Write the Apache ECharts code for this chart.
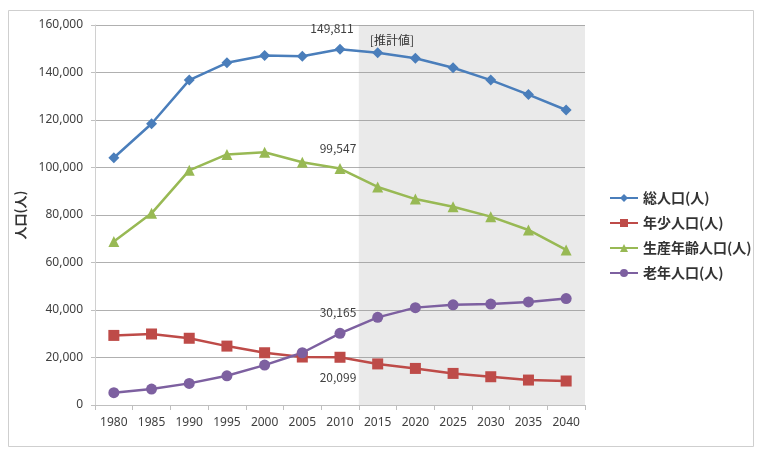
<!DOCTYPE html>
<html>
<head>
<meta charset="utf-8">
<script src="https://cdn.jsdelivr.net/npm/echarts@6/dist/echarts.min.js"></script>
<style>html,body{margin:0;padding:0;background:#fff;}#c{width:759px;height:449px;}</style>
</head>
<body>
<div id="c"></div>
<script>
var years = ['1980','1985','1990','1995','2000','2005','2010','2015','2020','2025','2030','2035','2040'];
var totalPop = [104100,118400,136800,144100,147200,146800,149811,148300,146000,142000,136800,130700,124200];
var youngPop = [29300,29900,28100,24800,22000,20200,20099,17300,15400,13300,11900,10500,10100];
var workingPop = [68800,80700,98800,105500,106400,102200,99547,91800,86700,83500,79300,73700,65300];
var elderlyPop = [5200,6700,9100,12300,16800,22000,30165,36900,41000,42200,42500,43400,44800];
var seriesNames = ['総人口(人)','年少人口(人)','生産年齢人口(人)','老年人口(人)'];
var yTicks = {min:0, max:160000, interval:20000};
var labelIndex = 6;
var estimateFirstIndex = years.indexOf('2015');  // first projected category

var FONT = '"Noto Sans CJK JP", "Noto Sans", sans-serif';

function withLabel(arr, pos, offset) {
  return arr.map(function (v, i) {
    if (i === labelIndex) {
      return {value: v, label: {show: true, position: pos, offset: offset,
        formatter: function (p) { return p.value.toLocaleString('en-US'); },
        color: '#404040', fontSize: 12, fontFamily: FONT}};
    }
    return v;
  });
}

var chart = echarts.init(document.getElementById('c'));
chart.setOption({
  animation: false,
  textStyle: {fontFamily: FONT},
  graphic: [{
    type: 'rect', shape: {x: 8.5, y: 10.5, width: 745, height: 436},
    style: {fill: 'none', stroke: '#cfcfcf', lineWidth: 1}, z: -10
  }],
  grid: {left: 95, right: 174, top: 25, bottom: 44},
  legend: {
    orient: 'vertical', left: 604, top: 186, itemGap: 11,
    itemWidth: 28, itemHeight: 10,
    textStyle: {fontSize: 14, fontWeight: 'bold', color: '#333', fontFamily: FONT},
    data: seriesNames
  },
  xAxis: [{
    type: 'category', data: years, boundaryGap: true,
    axisLine: {lineStyle: {color: '#bfbfbf'}},
    axisTick: {show: true, lineStyle: {color: '#bfbfbf'}},
    axisLabel: {color: '#404040', fontSize: 12, margin: 12, fontFamily: '"Noto Sans", sans-serif'}
  }, {
    type: 'value', min: 0, max: years.length, show: false
  }],
  yAxis: {
    type: 'value', min: yTicks.min, max: yTicks.max, interval: yTicks.interval,
    name: '人口(人)', nameLocation: 'middle', nameGap: 68, nameRotate: 90,
    nameTextStyle: {fontSize: 13, fontWeight: 'bold', color: '#333', fontFamily: FONT},
    axisLine: {show: true, lineStyle: {color: '#d0d0d0'}},
    axisTick: {show: true, length: 4, lineStyle: {color: '#c0c0c0'}},
    axisLabel: {color: '#404040', fontSize: 12, margin: 12,
      formatter: function (v) { return v.toLocaleString('en-US'); },
      fontFamily: '"Noto Sans", sans-serif'},
    splitLine: {lineStyle: {color: '#b0b0b0'}}
  },
  series: [
    {
      name: 'estimate', type: 'line', xAxisIndex: 1, data: [],
      markArea: {
        silent: true,
        itemStyle: {color: 'rgba(150,150,150,0.2)'},
        label: {show: true, position: 'insideTopLeft', offset: [6, 4],
          color: '#333', fontSize: 12, fontFamily: FONT},
        data: [[{xAxis: estimateFirstIndex, name: '[推計値]'}, {xAxis: years.length}]]
      }
    },
    {
      name: seriesNames[0], type: 'line', data: withLabel(totalPop, 'top', [-8, -4]),
      symbol: 'diamond', symbolSize: 11, color: '#4a7ebb',
      lineStyle: {width: 2.5}
    },
    {
      name: seriesNames[1], type: 'line', data: withLabel(youngPop, 'bottom', [-2, 4]),
      symbol: 'rect', symbolSize: 11, color: '#be4b48',
      lineStyle: {width: 2.5}
    },
    {
      name: seriesNames[2], type: 'line', data: withLabel(workingPop, 'top', [-2, -4]),
      symbol: 'triangle', symbolSize: 11, color: '#98b954',
      lineStyle: {width: 2.5}
    },
    {
      name: seriesNames[3], type: 'line', data: withLabel(elderlyPop, 'top', [-2, -4]),
      symbol: 'circle', symbolSize: 11, color: '#7d60a0',
      lineStyle: {width: 2.5}
    }
  ]
});
</script>
</body>
</html>
